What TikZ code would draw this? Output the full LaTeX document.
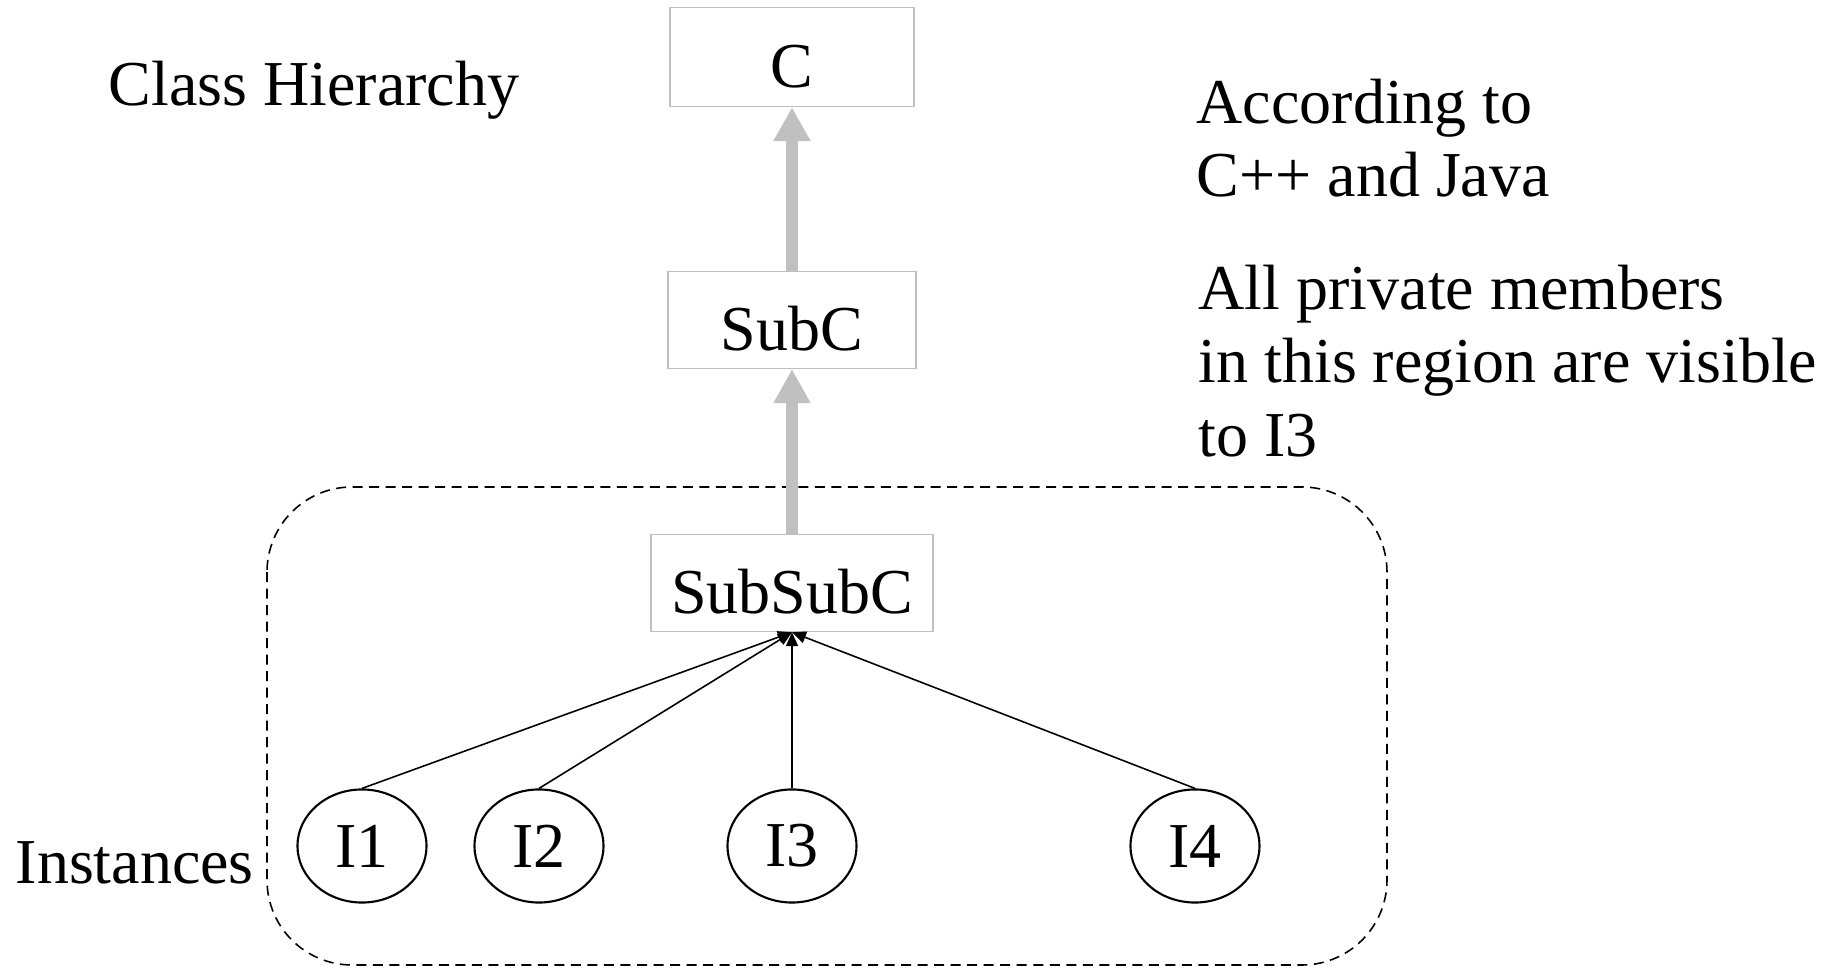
\documentclass[tikz,border=0pt]{standalone}
\usepackage{fontspec}
\setmainfont{Liberation Serif}
\usetikzlibrary{arrows.meta,shapes.geometric}
\definecolor{boxgray}{HTML}{C0C0C0}
\tikzset{
  every node/.style={font=\fontsize{18.2pt}{21pt}\selectfont},
  cls/.style={draw=boxgray,fill=white,line width=.4pt,inner sep=0pt,text height=.6cm,text depth=0pt},
  inst/.style={ellipse,draw=black,line width=.6pt,minimum width=1.29cm,minimum height=1.13cm,inner sep=0pt},
  extends/.style={-{Triangle[length=.34cm,width=.35cm]},line width=.12cm,color=boxgray},
  instof/.style={-{Triangle[length=.14cm,width=.12cm]},line width=.45pt,color=black},
  region/.style={dash pattern=on .1cm off .065cm,line width=.45pt,rounded corners=.85cm},
  note/.style={inner sep=0pt,align=left},
}

\begin{document}
\begin{tikzpicture}[x=.01cm,y=-.01cm]
  \useasboundingbox (0,0) rectangle (1841,967);
  \draw[region] (267,487) rectangle (1387,965);

  \node[cls,minimum width=2.44cm,minimum height=.99cm] (c) at (792,57) {C};
  \node[cls,minimum width=2.48cm,minimum height=.97cm] (subc) at (792,320) {SubC};
  \node[cls,minimum width=2.82cm,minimum height=.97cm] (subsubc) at (792,583) {SubSubC};
  \draw[extends] (subc) -- (c);
  \draw[extends] (subsubc) -- (subc);

  \node[inst] (i1) at (362,846) {I1};
  \node[inst] (i2) at (539,846) {I2};
  \node[inst] (i3) at (792,846) {I3};
  \node[inst] (i4) at (1195,846) {I4};
  \foreach \k in {1,...,4}
    \draw[instof] (i\k.north) -- (subsubc.south);

  \node[note,anchor=base west] (hier) at (108,106) {Class Hierarchy};
  \node[note,anchor=base west] (insts) at (15,884) {Instances};
  \node[note,anchor=north west] (lang) at (1196,78) {According to\\C++ and Java};
  \node[note,anchor=north west] (vis) at (1198,264) {All private members\\in this region are visible\\to I3};
\end{tikzpicture}
\end{document}
